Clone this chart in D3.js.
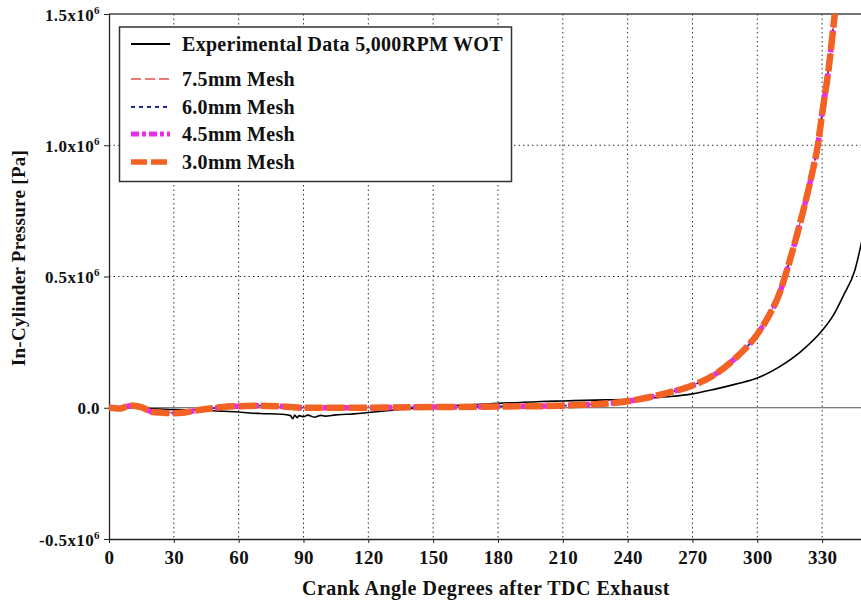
<!DOCTYPE html>
<html><head><meta charset="utf-8">
<script src="https://cdn.jsdelivr.net/npm/d3@7/dist/d3.min.js"></script>
<style>body{margin:0;background:#fff}svg{display:block}text{font-family:"Liberation Serif","Times New Roman",serif;font-weight:bold;fill:#111}</style>
</head><body><svg id="c" width="861" height="609"></svg>
<script>
// ---- data ----
const xTicks = [0,30,60,90,120,150,180,210,240,270,300,330];
const yTicks = [-0.5e6, 0, 0.5e6, 1.0e6, 1.5e6];
const yTickMantissa = ["-0.5", "0.0", "0.5", "1.0", "1.5"];

const expAngle = [0,10,20,30,40,50,60,65,70,80,84,85,86,87,88,90,92,95,98,100,105,110,120,130,140,150,160,170,180,190,200,210,220,230,240,250,260,270,280,290,300,310,320,330,335,340,345,350];
const expP = [0,0,-4000,-7000,-8000,-12000,-16000,-20000,-22000,-25000,-30000,-42000,-28000,-38000,-30000,-34000,-28000,-36000,-29000,-32000,-27000,-25000,-18000,-10000,-3000,4000,8000,12000,17000,20000,24000,26000,28000,30000,32000,37000,43000,53000,70000,90000,113000,155000,213000,294000,350000,430000,520000,700000];

const meshAngle = [0,5,10,15,20,25,30,35,40,45,50,55,60,70,80,90,100,120,140,160,180,200,210,220,230,240,250,260,270,280,290,300,305,310,315,320,325,328,330,333,336,338];
const mesh75 = [0,-2000,9000,3000,-14000,-17000,-19000,-17000,-10000,-5000,0,4000,6000,8000,4000,0,0,1000,2000,3000,5000,6000,8000,11000,16000,25000,40000,61000,86000,126000,191000,282000,347000,432000,562000,712000,882000,1002000,1122000,1292000,1512000,1652000];
const mesh60 = [0,-3000,8000,2000,-15000,-18000,-20000,-18000,-11000,-5000,0,5000,6000,8000,5000,0,0,1000,2000,3000,5000,6000,8000,11000,16000,25000,40000,60000,85000,125000,190000,281000,346000,431000,561000,711000,881000,1001000,1121000,1291000,1511000,1651000];
const mesh45 = [0,-3000,8000,2000,-16000,-19000,-20000,-18000,-11000,-5000,0,5000,6000,8000,5000,0,0,0,2000,3000,5000,6000,8000,11000,16000,25000,40000,60000,85000,125000,190000,280000,345000,430000,560000,710000,880000,1000000,1120000,1290000,1510000,1650000];
const mesh30 = [0,-3000,9000,2000,-16000,-19000,-21000,-18000,-11000,-5000,0,5000,6000,8000,5000,0,0,0,2000,3000,5000,6000,8000,11000,16000,25000,40000,60000,85000,125000,190000,280000,345000,430000,560000,710000,880000,1000000,1120000,1290000,1510000,1650000];

const seriesNames = ["Experimental Data 5,000RPM WOT","7.5mm Mesh","6.0mm Mesh","4.5mm Mesh","3.0mm Mesh"];

// ---- chart ----
const svg = d3.select("#c");
const L = 109, T = 14, B = 539;
const x = d3.scaleLinear().domain([0,360]).range([L, L + 360*2.161]);
const y = d3.scaleLinear().domain([-0.5e6, 1.5e6]).range([B, T]);

svg.append("defs").append("clipPath").attr("id","pc")
  .append("rect").attr("x",L).attr("y",T).attr("width",861-L).attr("height",B-T);

// grid
const g = svg.append("g");
g.selectAll(".vg").data(xTicks.filter(d=>d>0)).join("line")
  .attr("x1",d=>x(d)).attr("x2",d=>x(d)).attr("y1",T).attr("y2",B)
  .attr("stroke","#333").attr("stroke-width",1).attr("stroke-dasharray","1.5,3");
g.selectAll(".hg").data([0.5e6,1.0e6]).join("line")
  .attr("x1",L).attr("x2",861).attr("y1",d=>y(d)).attr("y2",d=>y(d))
  .attr("stroke","#333").attr("stroke-width",1).attr("stroke-dasharray","1.5,3");
g.append("line").attr("x1",L).attr("x2",861).attr("y1",y(0)).attr("y2",y(0))
  .attr("stroke","#555").attr("stroke-width",1.2);
g.append("line").attr("x1",L).attr("x2",861).attr("y1",T).attr("y2",T)
  .attr("stroke","#444").attr("stroke-width",1.3);

// axes
const xAxis = d3.axisBottom(x).tickValues(xTicks).tickSize(4).tickFormat(d3.format("d"));
const gx = svg.append("g").attr("transform",`translate(0,${B})`).call(xAxis);
gx.select(".domain").attr("d",`M${L},0.5H861`).attr("stroke","#222").attr("stroke-width",1.3);
gx.selectAll(".tick line").attr("stroke","#222");
gx.selectAll(".tick text").attr("dy","0").attr("y",25).style("font-size","19px")
  .style("letter-spacing","0.3px")
  .style("font-family","'Liberation Serif',serif").style("font-weight","bold").attr("fill","#111");

const yAxis = d3.axisLeft(y).tickValues(yTicks).tickSize(5).tickFormat("");
const gy = svg.append("g").attr("transform",`translate(${L},0)`).call(yAxis);
gy.select(".domain").attr("d",`M0.5,${T}V${B}`).attr("stroke","#222").attr("stroke-width",1.3);
gy.selectAll(".tick line").attr("stroke","#222");
gy.selectAll(".tick").each(function(d,i){
  const t = d3.select(this).append("text").attr("x",-9).attr("y",6)
    .attr("text-anchor","end").style("font-size","17px").style("letter-spacing","0.4px");
  if (d === 0) { t.text(yTickMantissa[i]); }
  else {
    t.append("tspan").text(yTickMantissa[i] + "x10");
    t.append("tspan").attr("dy",-7).style("font-size","11px").text("6");
  }
});

// lines
const plot = svg.append("g").attr("clip-path","url(#pc)");
const line = d3.line().curve(d3.curveMonotoneX);
const mk = (ang, vals) => line(ang.map((a,i)=>[x(a), y(vals[i])]));

plot.append("path").attr("d",mk(expAngle,expP)).attr("fill","none")
  .attr("stroke","#000").attr("stroke-width",1.6);
plot.append("path").attr("d",mk(meshAngle,mesh75)).attr("fill","none")
  .attr("stroke","#e0504a").attr("stroke-width",1.3).attr("stroke-dasharray","10,4");
plot.append("path").attr("d",mk(meshAngle,mesh60)).attr("fill","none")
  .attr("stroke","#1f2a8a").attr("stroke-width",1.6).attr("stroke-dasharray","4,4");
plot.append("path").attr("d",mk(meshAngle,mesh45)).attr("fill","none")
  .attr("stroke","#e62ee6").attr("stroke-width",5.5).attr("stroke-dasharray","8,3,4,3");
plot.append("path").attr("d",mk(meshAngle,mesh30)).attr("fill","none")
  .attr("stroke","#f26222").attr("stroke-width",6.5).attr("stroke-dasharray","18,4");

// legend
const lg = svg.append("g");
lg.append("rect").attr("x",119.5).attr("y",27).attr("width",392).attr("height",154.5)
  .attr("fill","#fff").attr("stroke","#333").attr("stroke-width",1.5);
const ly = [44,79,107,134,162];
const styles = [
  {c:"#000",w:2,d:null},
  {c:"#e0504a",w:1.3,d:"10,4"},
  {c:"#1f2a8a",w:1.8,d:"4,4"},
  {c:"#e62ee6",w:5,d:"8,3,4,3"},
  {c:"#f26222",w:5.5,d:"16,4"}
];
seriesNames.forEach((n,i)=>{
  lg.append("line").attr("x1",131).attr("x2",170).attr("y1",ly[i]).attr("y2",ly[i])
    .attr("stroke",styles[i].c).attr("stroke-width",styles[i].w)
    .attr("stroke-dasharray",styles[i].d);
  lg.append("text").attr("x",182).attr("y",ly[i]+7).style("font-size","20px")
    .style("letter-spacing","0.3px").text(n);
});

// titles
svg.append("text").attr("x",486).attr("y",595).attr("text-anchor","middle")
  .style("font-size","20px").style("letter-spacing","0.5px").text("Crank Angle Degrees after TDC Exhaust");
svg.append("text").attr("transform","translate(25,258) rotate(-90)").attr("text-anchor","middle")
  .style("font-size","19px").style("letter-spacing","0.3px").text("In-Cylinder Pressure [Pa]");
</script></body></html>
